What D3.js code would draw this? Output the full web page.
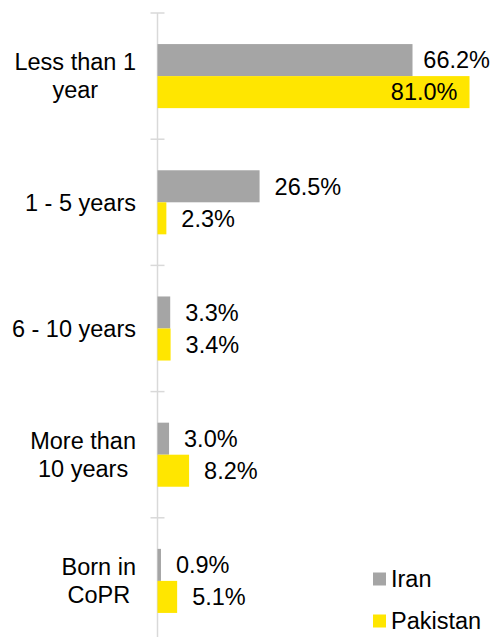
<!DOCTYPE html>
<html>
<head>
<meta charset="utf-8">
<script src="https://cdn.jsdelivr.net/npm/d3@7"></script>
<style>
  body { margin: 0; background: #fff; }
  svg text { font-family: "Liberation Sans", Arial, sans-serif; font-size: 23.5px; fill: #000; }
</style>
</head>
<body>
<svg id="chart" width="492" height="637"></svg>
<script>
// data
const categories = ["Less than 1 year", "1 - 5 years", "6 - 10 years", "More than 10 years", "Born in CoPR"];
const catLines = [["Less than 1", "year"], ["1 - 5 years"], ["6 - 10 years"], ["More than", "10 years"], ["Born in", "CoPR"]];
const seriesNames = ["Iran", "Pakistan"];
const iranValues = [66.2, 26.5, 3.3, 3.0, 0.9];
const pakistanValues = [81.0, 2.3, 3.4, 8.2, 5.1];
const colors = { "Iran": "#a5a5a5", "Pakistan": "#ffe600" };

const svg = d3.select('#chart');
const width = 492;

const x0 = 157.5;
const x = d3.scaleLinear().domain([0, 81.0]).range([x0, x0 + 81.0 * 3.852]);

const y = d3.scaleBand().domain(categories).range([13, 13 + 5 * 126.2]).padding(0);
const ySub = d3.scaleBand().domain(seriesNames).range([0, y.bandwidth()])
  .paddingInner(0).paddingOuter(0.97);

const rows = [];
categories.forEach((c, i) => {
  rows.push({ cat: c, series: "Iran", value: iranValues[i] });
  rows.push({ cat: c, series: "Pakistan", value: pakistanValues[i] });
});

// axis line + crossing ticks
svg.append('line')
  .attr('x1', x(0)).attr('x2', x(0))
  .attr('y1', y.range()[0]).attr('y2', y.range()[1])
  .attr('stroke', '#d9d9d9').attr('stroke-width', 1.5);

const tickPos = categories.map(c => y(c)).concat([y.range()[1]]);
svg.selectAll('line.tick')
  .data(tickPos)
  .enter()
  .append('line')
  .attr('class', 'tick')
  .attr('x1', x(0) - 7).attr('x2', x(0) + 7)
  .attr('y1', d => d).attr('y2', d => d)
  .attr('stroke', '#d9d9d9').attr('stroke-width', 1.5);

// bars
svg.selectAll('rect.bar')
  .data(rows)
  .enter()
  .append('rect')
  .attr('class', 'bar')
  .attr('x', x(0))
  .attr('y', d => y(d.cat) + ySub(d.series))
  .attr('width', d => x(d.value) - x(0))
  .attr('height', ySub.bandwidth())
  .attr('fill', d => colors[d.series]);

// value labels: outside end, pushed back inside the chart edge, or inside end if no room
svg.selectAll('text.val')
  .data(rows)
  .enter()
  .append('text')
  .attr('class', 'val')
  .attr('y', d => y(d.cat) + ySub(d.series) + ySub.bandwidth() / 2)
  .attr('dy', '0.35em')
  .text(d => d.value.toFixed(1) + '%')
  .each(function (d) {
    const t = d3.select(this);
    const w = this.getComputedTextLength();
    const end = x(d.value);
    const limit = width - 2;
    if (end + 15 + w <= limit) {
      t.attr('x', end + 15);
    } else if (limit - w >= end + 6) {
      t.attr('x', limit - w);
    } else {
      t.attr('x', end - 12).attr('text-anchor', 'end');
    }
  });

// category labels: block right aligned, lines centered
const lineH = 28;
catLines.forEach((lines, i) => {
  const cy = y(categories[i]) + y.bandwidth() / 2;
  const g = svg.append('g');
  const texts = g.selectAll('text')
    .data(lines)
    .enter()
    .append('text')
    .attr('text-anchor', 'middle')
    .attr('y', (d, j) => cy + (j - (lines.length - 1) / 2) * lineH)
    .attr('dy', '0.35em')
    .text(d => d);
  let maxW = 0;
  texts.each(function () { maxW = Math.max(maxW, this.getComputedTextLength()); });
  texts.attr('x', 136 - maxW / 2);
});

// legend
const legend = svg.selectAll('g.legend')
  .data(seriesNames)
  .enter()
  .append('g')
  .attr('class', 'legend')
  .attr('transform', (d, i) => `translate(373, ${579 + i * 42})`);

legend.append('rect')
  .attr('x', 0).attr('y', -6.5)
  .attr('width', 13).attr('height', 13)
  .attr('fill', d => colors[d]);

legend.append('text')
  .attr('x', 18)
  .attr('dy', '0.35em')
  .text(d => d);
</script>
</body>
</html>
